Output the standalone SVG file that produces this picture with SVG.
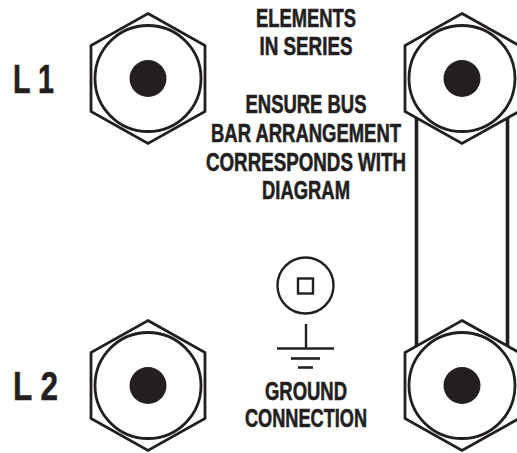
<svg xmlns="http://www.w3.org/2000/svg" width="517" height="453" viewBox="0 0 517 453">
<style>
.hex{fill:#fff;stroke:#231f20;stroke-width:2.8;stroke-linejoin:miter}
.ring{fill:none;stroke:#231f20;stroke-width:2.8}
.dot{fill:#231f20}
.bar{fill:none;stroke:#231f20;stroke-width:3.6}
.gl{fill:none;stroke:#231f20}
text{font-family:"Liberation Sans Narrow","Liberation Sans",Arial,sans-serif;font-weight:700;font-size:26px;fill:#231f20;stroke:#231f20;stroke-width:.6;text-anchor:middle}
.lab{font-family:"Liberation Sans",Arial,sans-serif;font-size:40px;stroke-width:.5;text-anchor:start}
</style>
<defs>
<g id="terminal">
<polygon class="hex" points="0,-65 57,-33 57,33 0,65 -57,33 -57,-33"/>
<circle class="ring" r="53"/>
<circle class="dot" r="18.5"/>
</g>
</defs>
<g id="connectors">
<line class="bar" x1="416.5" y1="110" x2="416.5" y2="350"/>
<line class="bar" x1="507.5" y1="110" x2="507.5" y2="350"/>
</g>
<g id="terminal-l1"><use href="#terminal" x="148" y="78.5"/></g>
<g id="terminal-l2"><use href="#terminal" x="148" y="385.5"/></g>
<g id="terminal-r1"><use href="#terminal" x="462" y="78.5"/></g>
<g id="terminal-r2"><use href="#terminal" x="462" y="385.5"/></g>
<g id="label-l1"><text class="lab" x="13" y="92.5" textLength="41" lengthAdjust="spacingAndGlyphs">L 1</text></g>
<g id="label-l2"><text class="lab" x="13" y="400" textLength="45" lengthAdjust="spacingAndGlyphs">L 2</text></g>
<g id="note-series">
<text x="306" y="27" textLength="100" lengthAdjust="spacingAndGlyphs">ELEMENTS</text>
<text x="306" y="55" textLength="93" lengthAdjust="spacingAndGlyphs">IN SERIES</text>
</g>
<g id="note-bus">
<text x="306" y="113" textLength="121" lengthAdjust="spacingAndGlyphs">ENSURE BUS</text>
<text x="306" y="142" textLength="190" lengthAdjust="spacingAndGlyphs">BAR ARRANGEMENT</text>
<text x="306" y="171" textLength="200" lengthAdjust="spacingAndGlyphs">CORRESPONDS WITH</text>
<text x="306" y="199" textLength="88" lengthAdjust="spacingAndGlyphs">DIAGRAM</text>
</g>
<g id="ground">
<circle class="gl" cx="305.5" cy="285.5" r="28" stroke-width="2.4"/>
<rect class="gl" x="298" y="278.5" width="15" height="15" stroke-width="2.4"/>
<line class="gl" x1="306" y1="324" x2="306" y2="349" stroke-width="2.4"/>
<line class="gl" x1="277" y1="348.5" x2="334" y2="348.5" stroke-width="2.4"/>
<line class="gl" x1="291" y1="358.5" x2="320" y2="358.5" stroke-width="2.6"/>
<line class="gl" x1="298" y1="367.5" x2="313" y2="367.5" stroke-width="2.6"/>
<text x="306" y="400" textLength="82" lengthAdjust="spacingAndGlyphs">GROUND</text>
<text x="306" y="427" textLength="122" lengthAdjust="spacingAndGlyphs">CONNECTION</text>
</g>
</svg>
